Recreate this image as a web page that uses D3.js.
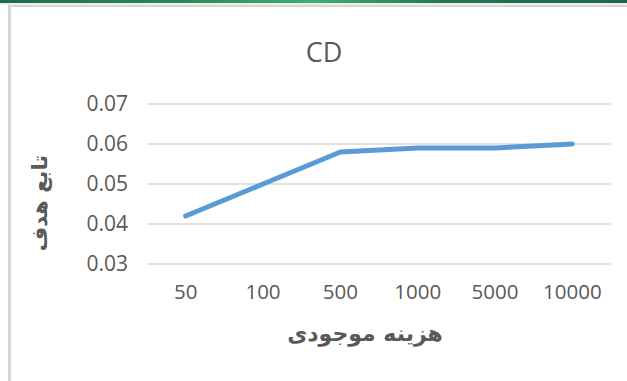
<!DOCTYPE html>
<html>
<head>
<meta charset="utf-8">
<script src="https://cdn.jsdelivr.net/npm/d3@7/dist/d3.min.js"></script>
<style>
  html, body { margin: 0; padding: 0; background: #fff; }
  svg { display: block; }
</style>
</head>
<body>
<svg id="chart" width="627" height="381"></svg>
<script>
// Cost levels and objective values for the CD series
const categories = ["50", "100", "500", "1000", "5000", "10000"];
const cdValues = [0.042, 0.050, 0.058, 0.059, 0.059, 0.060];
const yTicks = [0.03, 0.04, 0.05, 0.06, 0.07];
const chartTitle = "CD";
const xTitle = "هزینه موجودی";
const yTitle = "تابع هدف";

const svg = d3.select("#chart");
const W = 627, H = 381;

// Window frame: green ribbon on top, grey edges
const grad = svg.append("defs").append("linearGradient").attr("id", "ribbon");
[["0%", "#1f6b47"], ["30%", "#2a8a5c"], ["50%", "#3fae78"], ["70%", "#22784f"], ["100%", "#1d6644"]]
  .forEach(([o, c]) => grad.append("stop").attr("offset", o).attr("stop-color", c));
svg.append("rect").attr("x", 0).attr("y", 0).attr("width", W).attr("height", 3).attr("fill", "url(#ribbon)");
svg.append("rect").attr("x", 0).attr("y", 3).attr("width", W).attr("height", 2).attr("fill", "#eeeeee");
svg.append("rect").attr("x", 8).attr("y", 5).attr("width", W - 8).attr("height", 2).attr("fill", "#d6d6d6");
svg.append("rect").attr("x", 8).attr("y", 5).attr("width", 3).attr("height", H - 5).attr("fill", "#d6d6d6");

const margin = { left: 147, right: 16, top: 104, bottom: 117 };
const x = d3.scaleBand().domain(categories).range([margin.left, W - margin.right]);
const y = d3.scaleLinear().domain([0.03, 0.07]).range([H - margin.bottom, margin.top]);

const font = "'Open Sans', sans-serif";

// Horizontal gridlines
svg.append("g").selectAll("line").data(yTicks).join("line")
  .attr("x1", margin.left).attr("x2", W - margin.right)
  .attr("y1", d => y(d)).attr("y2", d => y(d))
  .attr("stroke", "#d9d9d9").attr("stroke-width", 1.5);

// Y axis labels
const yAxis = svg.append("g")
  .attr("transform", `translate(${margin.left - 19},0)`)
  .call(d3.axisLeft(y).tickValues(yTicks).tickFormat(d3.format(".2f")).tickSize(0).tickPadding(0));
yAxis.select(".domain").remove();
yAxis.selectAll("text").attr("font-family", font).attr("font-size", 21).attr("fill", "#595959");

// X axis labels
const xAxis = svg.append("g")
  .attr("transform", `translate(0,${y(0.03) + 20})`)
  .call(d3.axisBottom(x).tickSize(0).tickPadding(0));
xAxis.select(".domain").remove();
xAxis.selectAll("text").attr("font-family", font).attr("font-size", 20.5).attr("fill", "#595959")
  .attr("dy", "0.71em");

// Series line
const line = d3.line().x((d, i) => x(categories[i]) + x.bandwidth() / 2).y(d => y(d));
svg.append("path").datum(cdValues)
  .attr("d", line)
  .attr("fill", "none")
  .attr("stroke", "#5b9bd5")
  .attr("stroke-width", 5)
  .attr("stroke-linecap", "round")
  .attr("stroke-linejoin", "round");

// Titles
svg.append("text").attr("x", 324).attr("y", 62).attr("text-anchor", "middle")
  .attr("font-family", font).attr("font-size", 27).attr("fill", "#595959").text(chartTitle);

svg.append("text").attr("x", 365).attr("y", 341).attr("text-anchor", "middle")
  .attr("font-family", "'DejaVu Sans', sans-serif").attr("font-weight", "bold")
  .attr("font-size", 22).attr("fill", "#595959").attr("direction", "rtl").text(xTitle);

svg.append("text").attr("transform", "translate(47,203) rotate(-90)").attr("text-anchor", "middle")
  .attr("font-family", "'DejaVu Sans', sans-serif").attr("font-weight", "bold")
  .attr("font-size", 21).attr("fill", "#595959").attr("direction", "rtl").text(yTitle);
</script>
</body>
</html>
